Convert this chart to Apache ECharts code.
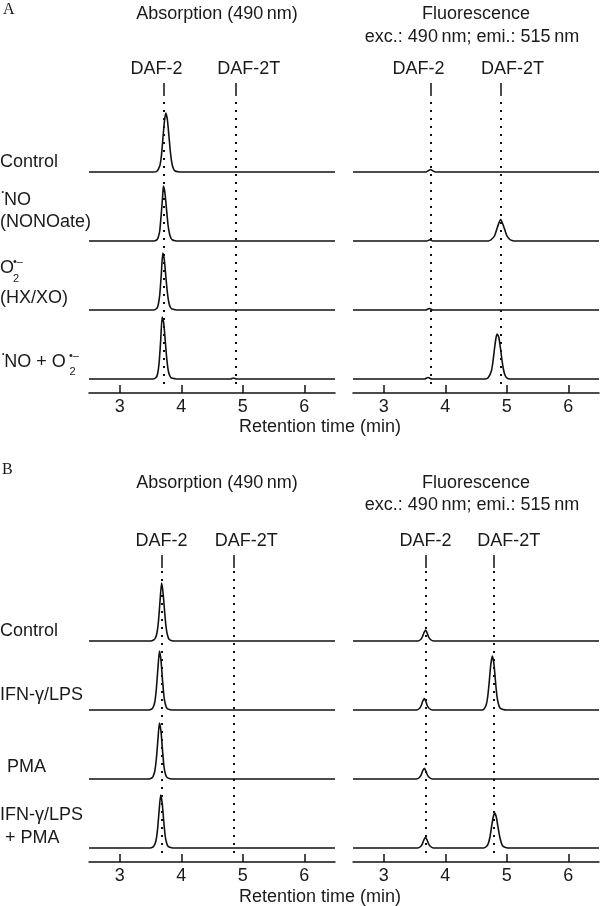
<!DOCTYPE html>
<html>
<head>
<meta charset="utf-8">
<script src="https://cdn.jsdelivr.net/npm/echarts@6/dist/echarts.min.js"></script>
<style>
	html, body { margin: 0; background: #fff; }
	#chart { width: 600px; height: 906px; }
</style>
</head>
<body>
<div id="chart"></div>
<script>
	// retention time axis (min)
	var timeMin = 2.5;
	var timeMax = 6.5;
	var timeTicks = [3, 4, 5, 6];
	var guideNames = ['DAF-2', 'DAF-2T'];

	// retention times of the DAF-2 / DAF-2T guides (min)
	var guidesA_abs = [3.71, 4.885];
	var guidesA_flu = [3.76, 4.90];
	var guidesB_abs = [3.68, 4.86];
	var guidesB_flu = [3.68, 4.79];

	// A, absorption (490 nm): [time, signal]
	var absA_control = [[2.5,0],[3.55,0],[3.6,0.5],[3.65,6],[3.675,15],[3.7,32],[3.725,50],[3.75,59],[3.775,52],[3.8,36],[3.825,19],[3.85,8],[3.875,3],[3.9,1],[3.95,0.3],[4.0,0],[6.5,0]];
	var absA_nonoate = [[2.5,0],[3.55,0],[3.6,1],[3.625,3.5],[3.65,10],[3.675,27],[3.7,47],[3.71,55],[3.735,48],[3.76,32],[3.785,16],[3.81,7],[3.835,2.5],[3.86,1],[3.9,0.3],[3.95,0],[6.5,0]];
	var absA_hxxo = [[2.5,0],[3.55,0],[3.6,1.5],[3.625,5],[3.65,15],[3.675,35],[3.7,57],[3.725,50],[3.75,33],[3.775,17],[3.8,7],[3.825,2.5],[3.85,1],[3.9,0.3],[3.95,0],[6.5,0]];
	var absA_both = [[2.5,0],[3.54,0],[3.59,1.5],[3.615,5],[3.64,16],[3.665,38],[3.69,62],[3.715,56],[3.74,38],[3.765,20],[3.79,8],[3.815,3],[3.84,1],[3.9,0.3],[3.95,0],[4.8,0],[4.85,1],[4.9,0],[6.5,0]];

	// A, fluorescence (exc. 490 / emi. 515 nm)
	var fluA_control = [[2.5,0],[3.68,0],[3.73,1.5],[3.76,2.5],[3.79,1.5],[3.84,0],[6.5,0]];
	var fluA_nonoate = [[2.5,0],[3.7,0],[3.75,1.3],[3.8,0],[4.7,0],[4.75,1.5],[4.8,5],[4.85,14],[4.9,21.7],[4.95,14.5],[5.0,5.5],[5.05,1.5],[5.1,0.3],[5.15,0],[6.5,0]];
	var fluA_hxxo = [[2.5,0],[3.68,0],[3.74,1.5],[3.8,0],[6.5,0]];
	var fluA_both = [[2.5,0],[3.66,0],[3.72,1.5],[3.78,0],[4.65,0],[4.7,1.5],[4.75,8],[4.775,17],[4.8,30],[4.825,41],[4.845,45],[4.87,42],[4.895,32],[4.92,20],[4.945,10],[4.97,4],[5.0,1.2],[5.05,0],[6.5,0]];

	// B, absorption (490 nm)
	var absB_control = [[2.5,0],[3.5,0],[3.55,1],[3.58,3],[3.605,8],[3.63,20],[3.655,40],[3.68,58],[3.705,48],[3.73,29],[3.755,13],[3.78,5],[3.805,1.5],[3.85,0.3],[3.9,0],[6.5,0]];
	var absB_ifn = [[2.5,0],[3.47,0],[3.52,1],[3.545,3],[3.57,8],[3.595,21],[3.62,41],[3.645,59],[3.67,50],[3.695,30],[3.72,13],[3.745,5],[3.77,1.5],[3.82,0.3],[3.87,0],[6.5,0]];
	var absB_pma = [[2.5,0],[3.47,0],[3.52,1],[3.545,3],[3.57,8],[3.595,20],[3.62,39],[3.645,56],[3.67,48],[3.695,29],[3.72,12],[3.745,4.5],[3.77,1.5],[3.82,0.3],[3.87,0],[6.5,0]];
	var absB_both = [[2.5,0],[3.49,0],[3.54,1],[3.565,3],[3.59,7.5],[3.615,19],[3.64,37],[3.665,53],[3.69,45],[3.715,27],[3.74,11.5],[3.765,4.5],[3.79,1.3],[3.84,0.3],[3.89,0],[6.5,0]];

	// B, fluorescence
	var fluB_control = [[2.5,0],[3.55,0],[3.6,1.5],[3.63,4.5],[3.655,8.5],[3.68,11],[3.705,8],[3.73,4],[3.76,1.5],[3.81,0],[6.5,0]];
	var fluB_ifn = [[2.5,0],[3.53,0],[3.58,1.5],[3.61,4.5],[3.635,9],[3.66,11.4],[3.685,8.5],[3.71,4],[3.74,1.5],[3.79,0],[4.6,0],[4.63,1],[4.665,5],[4.69,13],[4.715,28],[4.74,45],[4.765,54],[4.79,47],[4.815,30],[4.84,14],[4.865,6],[4.89,2],[4.94,0.5],[5.0,0],[6.5,0]];
	var fluB_pma = [[2.5,0],[3.53,0],[3.58,1.5],[3.61,4.3],[3.635,8.5],[3.66,10.7],[3.685,8],[3.71,4],[3.74,1.5],[3.79,0],[6.5,0]];
	var fluB_both = [[2.5,0],[3.55,0],[3.6,1.5],[3.63,4.3],[3.655,8.5],[3.68,10.6],[3.705,8],[3.73,4],[3.76,1.5],[3.81,0],[4.62,0],[4.67,1.5],[4.7,4.5],[4.73,12],[4.755,22],[4.78,31],[4.805,35],[4.83,31],[4.855,22],[4.88,13],[4.905,6.5],[4.93,2.5],[4.96,1],[5.02,0],[6.5,0]];

	var FONT = 'Liberation Sans, Arial, sans-serif';
	var INK = '#111';

	// layout: one grid per column, traces stacked inside it
	var panels = [
		{box: {left: 89, top: 83, width: 246, height: 310}, traces: [absA_control, absA_nonoate, absA_hxxo, absA_both], guides: guidesA_abs, shift: [-7, 13]},
		{box: {left: 353, top: 83, width: 246, height: 310}, traces: [fluA_control, fluA_nonoate, fluA_hxxo, fluA_both], guides: guidesA_flu, shift: [-12, 12]},
		{box: {left: 89, top: 555, width: 246, height: 307}, traces: [absB_control, absB_ifn, absB_pma, absB_both], guides: guidesB_abs, shift: [0, 12]},
		{box: {left: 353, top: 555, width: 246, height: 307}, traces: [fluB_control, fluB_ifn, fluB_pma, fluB_both], guides: guidesB_flu, shift: [0, 15]}
	];
	var rowBase = function (i) { return 14 + (3 - i) * 69; };

	var grids = [], xAxes = [], yAxes = [], series = [];
	panels.forEach(function (p, g) {
		grids.push(p.box);
		xAxes.push({
			type: 'value', gridIndex: g, min: timeMin, max: timeMax,
			axisLine: {lineStyle: {color: INK, width: 1.5}},
			axisTick: {inside: true, length: 8, customValues: timeTicks, lineStyle: {color: INK, width: 1.5}},
			axisLabel: {customValues: timeTicks, margin: 5, fontSize: 18, fontFamily: FONT, color: '#1a1a1a'},
			splitLine: {show: false}
		});
		var top = p.box.height;
		yAxes.push({type: 'value', gridIndex: g, min: 0, max: top, show: false});

		var lines = [];
		p.guides.forEach(function (x, i) {
			var s = p.shift[i];
			lines.push([
				{coord: [x, top - 13], lineStyle: {type: 'solid', width: 1.5},
					label: {show: true, formatter: guideNames[i], padding: s > 0 ? [0, 0, 0, 2 * s] : [0, -2 * s, 0, 0]}},
				{coord: [x, top]}
			]);
			lines.push([
				{coord: [x, 9], lineStyle: {type: [2, 6], width: 2}, label: {show: false}},
				{coord: [x, top - 16]}
			]);
		});

		p.traces.forEach(function (tr, i) {
			var base = rowBase(i);
			var s = {
				type: 'line', xAxisIndex: g, yAxisIndex: g,
				data: tr.map(function (d) { return [d[0], d[1] + base]; }),
				symbol: 'none', smooth: 0.2,
				lineStyle: {color: INK, width: 1.6},
				silent: true
			};
			if (i === 0) {
				s.markLine = {
					silent: true, symbol: ['none', 'none'],
					lineStyle: {color: INK},
					label: {position: 'end', distance: 5, fontSize: 18, fontFamily: FONT, color: '#1a1a1a'},
					data: lines
				};
			}
			series.push(s);
		});
	});

	function txt(x, y, text, size, opt) {
		opt = opt || {};
		return {
			type: 'text', x: x, y: y, silent: true,
			style: {
				text: text, fill: '#1a1a1a',
				font: (size || 18) + 'px ' + (opt.family || FONT),
				textAlign: opt.align || 'left', align: opt.align || 'left',
				textVerticalAlign: 'middle', verticalAlign: 'middle'
			}
		};
	}

	var graphic = [
		txt(3, 10, 'A', 16, {family: 'Liberation Serif, serif'}),
		txt(217, 14, 'Absorption (490\u2009nm)', 18, {align: 'center'}),
		txt(476, 14, 'Fluorescence', 18, {align: 'center'}),
		txt(472, 37, 'exc.: 490\u2009nm; emi.: 515\u2009nm', 18, {align: 'center'}),
		txt(0, 162, 'Control'),
		txt(1.5, 192, '\u2022', 7),
		txt(4, 200, 'NO'),
		txt(0, 222.5, '(NONOate)'),
		txt(0, 268, 'O'),
		txt(13, 261.5, '\u2022\u2013', 11),
		txt(13, 279, '2', 11),
		txt(0, 298, '(HX/XO)'),
		txt(2, 354, '\u2022', 7),
		txt(4.3, 362.5, 'NO + O'),
		txt(69, 356, '\u2022\u2013', 11),
		txt(69.5, 372, '2', 11),
		txt(320, 427, 'Retention time (min)', 18, {align: 'center'}),

		txt(2, 470, 'B', 16, {family: 'Liberation Serif, serif'}),
		txt(217, 483, 'Absorption (490\u2009nm)', 18, {align: 'center'}),
		txt(476, 483, 'Fluorescence', 18, {align: 'center'}),
		txt(472, 505, 'exc.: 490\u2009nm; emi.: 515\u2009nm', 18, {align: 'center'}),
		txt(0, 631, 'Control'),
		txt(0, 695, 'IFN-\u03b3/LPS'),
		txt(7, 767, 'PMA'),
		txt(0, 815, 'IFN-\u03b3/LPS'),
		txt(5, 838, '+ PMA'),
		txt(320, 897, 'Retention time (min)', 18, {align: 'center'})
	];

	var chart = echarts.init(document.getElementById('chart'));
	chart.setOption({
		animation: false,
		backgroundColor: '#fff',
		grid: grids,
		xAxis: xAxes,
		yAxis: yAxes,
		series: series,
		graphic: graphic
	});
	window.addEventListener('resize', function () {
		chart.resize();
	});
</script>
</body>
</html>
